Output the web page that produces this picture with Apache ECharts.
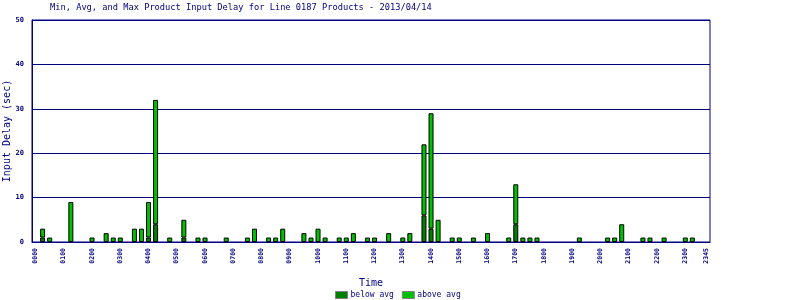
<!DOCTYPE html>
<html>
<head>
<meta charset="utf-8">
<script src="https://cdn.jsdelivr.net/npm/echarts@6/dist/echarts.min.js"></script>
<style>
html,body{margin:0;padding:0;background:#fff;}
#chart{width:800px;height:300px;}
</style>
</head>
<body>
<div id="chart"></div>
<script>
// Time slots (15-minute intervals)
var times = [];
for (var h = 0; h < 24; h++) {
  for (var m = 0; m < 60; m += 15) {
    times.push((h < 10 ? '0' : '') + h + (m < 10 ? '0' : '') + m);
  }
}
// Segment values (sec)
var belowAvg = [
  0,1,0,0,0,0,0,0, 0,0,0,0,0,0,0,0,
  1,4,0,0,0,1,0,0, 0,0,0,0,0,0,0,0,
  0,0,0,0,0,0,0,0, 0,0,0,0,0,0,0,0,
  0,0,0,0,0,0,0,6, 3,0,0,0,0,0,0,0,
  0,0,0,0,4,0,0,0, 0,0,0,0,0,0,0,0,
  0,0,0,0,0,0,0,0, 0,0,0,0,0,0,0,0
];
var aboveAvg = [
  0,2,1,0,0,9,0,0, 1,0,2,1,1,0,3,3,
  8,28,0,1,0,4,0,1, 1,0,0,1,0,0,1,3,
  0,1,1,3,0,0,2,1, 3,1,0,1,1,2,0,1,
  1,0,2,0,1,2,0,16, 26,5,0,1,1,0,1,0,
  2,0,0,1,9,1,1,1, 0,0,0,0,0,1,0,0,
  0,1,1,4,0,0,1,1, 0,1,0,0,1,1,0,0
];
var yTicks = [0, 10, 20, 30, 40, 50];
var titleText = 'Min, Avg, and Max Product Input Delay for Line 0187 Products - 2013/04/14';

function hideZero(arr) { return arr.map(function (v) { return v === 0 ? '-' : v; }); }

var navy = '#000080';
var mono = '"DejaVu Sans Mono", "Liberation Mono", monospace';
var chart = echarts.init(document.getElementById('chart'), null, {renderer: 'canvas'});
chart.setOption({
  backgroundColor: '#ffffff',
  animation: false,
  title: {
    text: titleText,
    left: 50, top: 3, padding: 0,
    textStyle: {color: navy, fontFamily: mono, fontSize: 8.7, fontWeight: 'normal'}
  },
  legend: {
    data: ['below avg', 'above avg'],
    left: 335, top: 291, padding: 0,
    itemWidth: 12, itemHeight: 7, itemGap: 8,
    icon: 'rect',
    itemStyle: {borderColor: '#808080', borderWidth: 1},
    textStyle: {color: navy, fontFamily: mono, fontSize: 8, padding: [0,0,0,-2]}
  },
  grid: {left: 32, top: 20, right: 90, bottom: 58, containLabel: false, outerBoundsMode: 'none',
         show: true, borderColor: navy, borderWidth: 1},
  xAxis: {
    type: 'category',
    data: times,
    name: 'Time',
    nameLocation: 'middle',
    nameGap: 36,
    nameMoveOverlap: false,
    nameTextStyle: {color: navy, fontFamily: mono, fontSize: 10},
    axisLine: {lineStyle: {color: navy, width: 1}},
    axisTick: {show: false},
    axisLabel: {
      rotate: 90,
      margin: 6,
      color: navy,
      fontFamily: mono,
      fontSize: 6.5,
      fontWeight: 'bold',
      interval: function (i) { return i % 4 === 0 || i === times.length - 1; }
    }
  },
  yAxis: {
    type: 'value',
    min: yTicks[0], max: yTicks[yTicks.length - 1], interval: 10,
    name: 'Input Delay (sec)',
    nameLocation: 'middle',
    nameGap: 20,
    nameRotate: 90,
    nameMoveOverlap: false,
    nameTextStyle: {color: navy, fontFamily: mono, fontSize: 10},
    axisLine: {show: true, lineStyle: {color: navy, width: 1}},
    axisTick: {show: false},
    axisLabel: {color: navy, fontFamily: mono, fontSize: 7, fontWeight: 'bold', margin: 8},
    splitLine: {lineStyle: {color: navy, width: 1}}
  },
  series: [
    {
      name: 'below avg', type: 'bar', stack: 'd', data: hideZero(belowAvg),
      barWidth: 5,
      itemStyle: {color: '#008000', borderColor: '#000000', borderWidth: 1}
    },
    {
      name: 'above avg', type: 'bar', stack: 'd', data: hideZero(aboveAvg),
      barWidth: 5,
      itemStyle: {color: '#00c000', borderColor: '#000000', borderWidth: 1}
    }
  ]
});
</script>
</body>
</html>
